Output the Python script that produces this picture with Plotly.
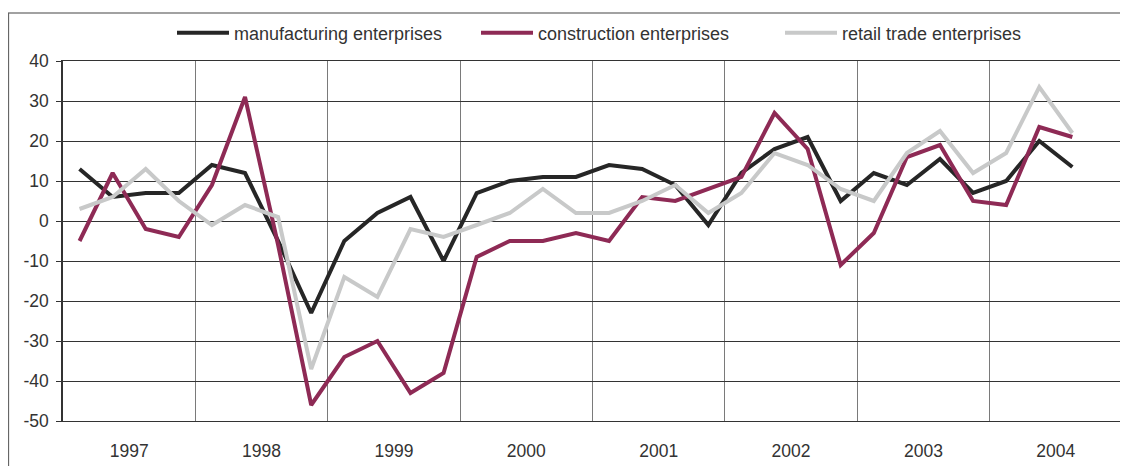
import plotly.graph_objects as go

years = ["1997", "1998", "1999", "2000", "2001", "2002", "2003", "2004"]
quarters_per_year = 4
y_ticks = [40, 30, 20, 10, 0, -10, -20, -30, -40, -50]

manufacturing = [13, 6, 7, 7,
                 14, 12, -5, -23,
                 -5, 2, 6, -10,
                 7, 10, 11, 11,
                 14, 13, 9, -1,
                 12, 18, 21, 5,
                 12, 9, 15.5, 7,
                 10, 20, 13.5]
construction = [-5, 12, -2, -4,
                9, 31, -6, -46,
                -34, -30, -43, -38,
                -9, -5, -5, -3,
                -5, 6, 5, 8,
                11, 27, 18, -11,
                -3, 16, 19, 5,
                4, 23.5, 21]
retail = [3, 6, 13, 5,
          -1, 4, 1, -37,
          -14, -19, -2, -4,
          -1, 2, 8, 2,
          2, 5, 9, 2,
          7, 17, 14, 8,
          5, 17, 22.5, 12,
          17, 33.5, 22]

names = ["manufacturing enterprises", "construction enterprises", "retail trade enterprises"]
colors = ["#262626", "#8E2A55", "#C8C9C9"]

x = list(range(len(manufacturing)))
n_q = len(years) * quarters_per_year

fig = go.Figure()
for vals, name, col in zip([manufacturing, construction, retail], names, colors):
    fig.add_trace(go.Scatter(x=x[:len(vals)], y=vals, mode="lines", name=name,
                             line=dict(color=col, width=4)))

# the page body adds an 8px offset; figure size/margins compensate for it
OFF = 8
W, H = 1128 - OFF, 466 - OFF
ml, mr, mt, mb = 63 - OFF, 6, 61 - OFF, 45
pw, ph = W - ml - mr, H - mt - mb

fig.update_layout(
    width=W, height=H,
    margin=dict(l=ml, r=mr, t=mt, b=mb, autoexpand=False),
    paper_bgcolor="white", plot_bgcolor="white",
    font=dict(family="Liberation Sans, Arial, sans-serif", size=17.5, color="#333333"),
    legend=dict(orientation="h", xref="container", yref="container",
                x=(178 - OFF - 6) / W, xanchor="left", y=1 - (33 - OFF) / H, yanchor="middle",
                font=dict(size=18, color="#333333"),
                itemwidth=52, entrywidth=237, bgcolor="rgba(0,0,0,0)"),
    showlegend=True,
)

fig.update_xaxes(
    range=[-0.5, n_q - 0.5],
    tickvals=[i * quarters_per_year + 1.5 for i in range(len(years))],
    ticktext=years,
    ticks="", showgrid=False, zeroline=False,
    showline=True, linecolor="#333333", linewidth=1, mirror=True,
    ticklabelstandoff=14, automargin=False,
    minor=dict(tick0=-0.5, dtick=quarters_per_year, showgrid=True,
               gridcolor="#7a7a7a", gridwidth=1.2, ticks=""),
    fixedrange=True,
)
fig.update_yaxes(
    range=[-50, 40],
    tickvals=y_ticks, ticktext=[str(v) for v in y_ticks],
    ticks="outside", ticklen=5, tickcolor="#333333",
    showgrid=True, gridcolor="#333333", gridwidth=1,
    zeroline=True, zerolinecolor="#333333", zerolinewidth=1,
    showline=True, linecolor="#333333", linewidth=1.5, mirror=True,
    ticklabelstandoff=4, automargin=False,
    fixedrange=True,
)

# outer frame of the exhibit
left_x = (8 - OFF - ml) / pw
top_y = (H - mb - (13 - OFF)) / ph
fig.add_shape(type="line", xref="paper", yref="paper", x0=left_x, x1=1.1, y0=top_y, y1=top_y,
              line=dict(color="#444444", width=1.2))
fig.add_shape(type="line", xref="paper", yref="paper", x0=left_x + 0.0005, x1=left_x + 0.0005,
              y0=top_y, y1=-0.3, line=dict(color="#666666", width=1.2))

fig.write_html("out.html")
